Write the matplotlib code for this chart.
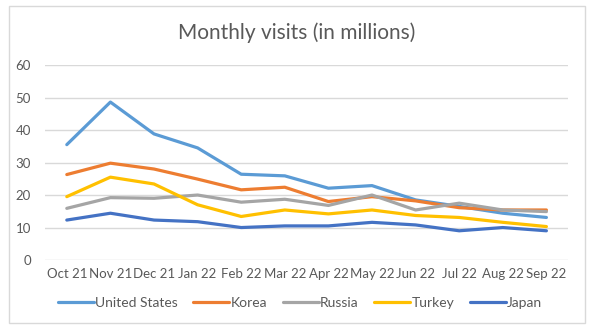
import matplotlib
matplotlib.use("Agg")
import matplotlib.pyplot as plt
from matplotlib.patches import Rectangle

months = ["Oct 21", "Nov 21", "Dec 21", "Jan 22", "Feb 22", "Mar 22",
          "Apr 22", "May 22", "Jun 22", "Jul 22", "Aug 22", "Sep 22"]

united_states = [35.5, 48.6, 38.8, 34.5, 26.4, 25.9, 22.1, 22.9, 18.5, 16.5, 14.4, 13.1]
korea = [26.3, 29.8, 28.0, 24.9, 21.6, 22.4, 18.0, 19.5, 18.2, 16.1, 15.4, 15.4]
russia = [15.9, 19.2, 19.0, 20.0, 17.8, 18.7, 16.8, 20.0, 15.4, 17.5, 15.4, 14.9]
turkey = [19.5, 25.5, 23.4, 17.0, 13.4, 15.4, 14.2, 15.4, 13.7, 13.1, 11.6, 10.3]
japan = [12.3, 14.4, 12.3, 11.8, 10.0, 10.5, 10.5, 11.6, 10.8, 9.0, 10.0, 9.0]

series = [
    ("United States", united_states, "#5B9BD5"),
    ("Korea", korea, "#ED7D31"),
    ("Russia", russia, "#A5A5A5"),
    ("Turkey", turkey, "#FFC000"),
    ("Japan", japan, "#4472C4"),
]

plt.rcParams["font.family"] = ["Lato", "DejaVu Sans"]
text_col = "#595959"

fig = plt.figure(figsize=(6, 3.3), dpi=100)
ax = fig.add_axes([0.075, 0.212, 0.872, 0.591])

x = list(range(len(months)))
for name, vals, col in series:
    ax.plot(x, vals, color=col, lw=2.3, label=name, solid_capstyle="round")

ax.set_xlim(-0.5, len(months) - 0.5)
ax.set_ylim(0, 60)
ax.set_yticks(range(0, 61, 10))
ax.set_xticks(x)
ax.set_xticklabels(months)
ax.tick_params(axis="both", length=0, colors=text_col, labelsize=9.5)
ax.tick_params(axis="x", pad=6)
ax.tick_params(axis="y", pad=10)
ax.grid(axis="y", color="#D9D9D9", lw=1)
ax.set_axisbelow(True)
for s in ax.spines.values():
    s.set_visible(False)

fig.text(0.495, 0.9, "Monthly visits (in millions)", ha="center", va="center",
         fontsize=15, color=text_col)

fig.legend(loc="center", bbox_to_anchor=(0.5, 0.082), ncol=5, frameon=False,
           fontsize=10, labelcolor=text_col, handlelength=2.6,
           handletextpad=0.1, columnspacing=1.1)

# chart frame
fig.patches.append(Rectangle((0.015, 0.022), 0.96, 0.96, transform=fig.transFigure,
                             fill=False, edgecolor="#D9D9D9", lw=1))

fig.savefig("out.png", dpi=100, facecolor="white")
